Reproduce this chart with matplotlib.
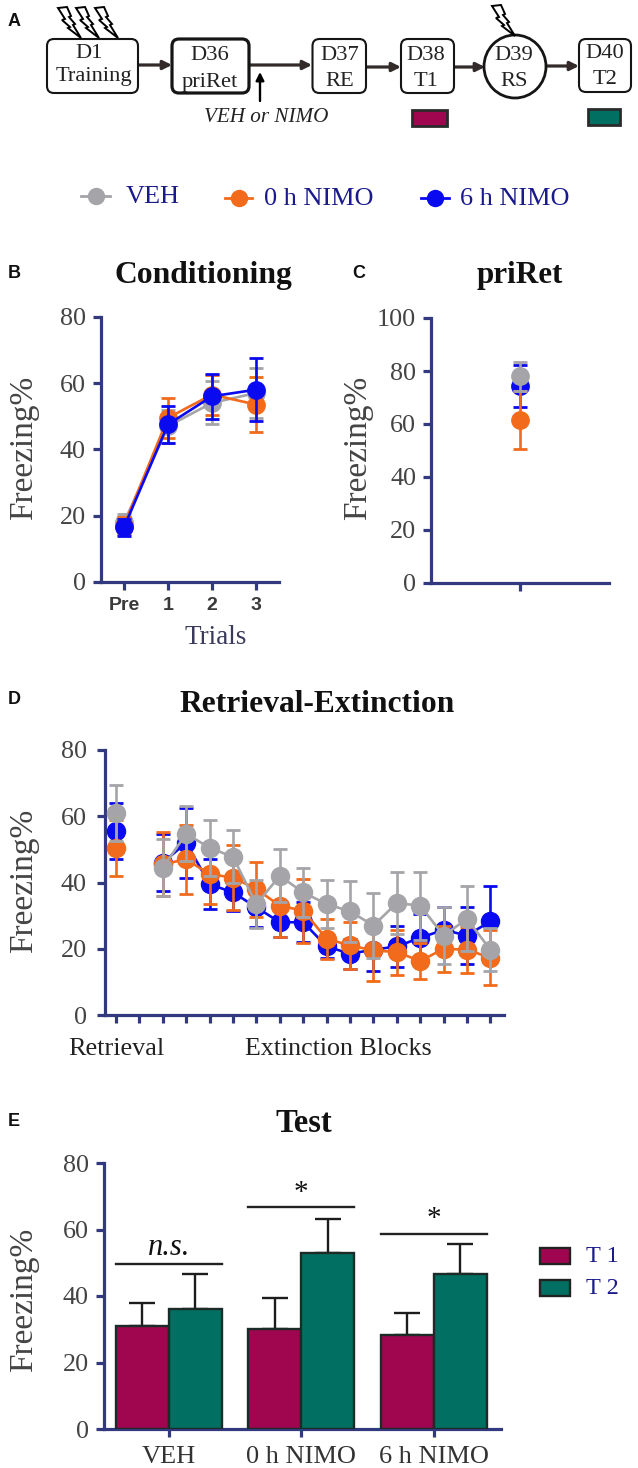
import matplotlib
matplotlib.use("Agg")
import matplotlib.pyplot as plt
from matplotlib.patches import FancyBboxPatch, Ellipse, Rectangle, Polygon
from matplotlib.transforms import ScaledTranslation

W, H = 638, 1468
SERIF = "Liberation Serif"
SANS = "Liberation Sans"
NAVY = "#33397f"
DARK = "#444444"
TEXTNAVY = "#1a1a8c"
GREY, ORANGE, BLUE = "#a5a5a9", "#f26a1b", "#0a0af0"
T1C, T2C = "#a00650", "#016f62"
COLORS = {"VEH": GREY, "0 h NIMO": ORANGE, "6 h NIMO": BLUE}

groups = ["VEH", "0 h NIMO", "6 h NIMO"]
trial_labels = ["Pre", "1", "2", "3"]
cond_mean = {"VEH": [18, 47, 54, 57], "0 h NIMO": [17, 49.5, 56.5, 53.5], "6 h NIMO": [16.5, 47.5, 56, 58]}
cond_err = {"VEH": [2.5, 5, 6.5, 7.5], "0 h NIMO": [2.5, 6, 6, 8.2], "6 h NIMO": [2.5, 5.5, 6.8, 9.5]}
pri_mean = {"VEH": 78, "0 h NIMO": 61.5, "6 h NIMO": 74.3}
pri_err = {"VEH": 5.5, "0 h NIMO": 11, "6 h NIMO": 8}
ret_mean = {"VEH": 61, "0 h NIMO": 50.5, "6 h NIMO": 55.5}
ret_err = {"VEH": 8.5, "0 h NIMO": 8.5, "6 h NIMO": 8.5}
ext_mean = {
    "VEH": [44.5, 54.7, 50.5, 47.7, 33.5, 42, 37, 33.5, 31.3, 27, 33.8, 33, 24, 29, 19.7],
    "0 h NIMO": [45.5, 47, 42.5, 41.5, 38, 33, 31.5, 23, 21, 19.5, 19, 16.3, 20, 19.7, 17.3],
    "6 h NIMO": [46, 52, 39.5, 37, 32.5, 28, 28, 20.7, 18.5, 19.7, 20.7, 23.3, 25.7, 24, 28.3],
}
ext_err = {
    "VEH": [8.5, 8.3, 8.5, 8, 7.3, 8, 7.5, 7.3, 9.3, 9.8, 9.3, 10.3, 8.5, 9.8, 6.5],
    "0 h NIMO": [9.7, 10.5, 9, 9.8, 8.3, 9.5, 9.7, 6, 7, 9.3, 6.8, 5.3, 7, 7, 8.3],
    "6 h NIMO": [8.6, 10.5, 7.5, 5.5, 6, 4.5, 6, 3.5, 4.5, 6.3, 6.3, 7.3, 7, 8.6, 10.5],
}
test_labels = ["VEH", "0 h NIMO", "6 h NIMO"]
t1_mean = [31, 30, 28.3]
t1_err = [6.8, 9.5, 6.7]
t2_mean = [36, 53, 46.5]
t2_err = [10.7, 10.2, 9]
sig_labels = ["n.s.", "*", "*"]
sig_heights = [49.7, 66.7, 58.7]

plt.rcParams["font.family"] = [SERIF, "DejaVu Serif"]
fig = plt.figure(figsize=(W / 100, H / 100), dpi=100)
bg = fig.add_axes([0, 0, 1, 1])
bg.set_xlim(0, W); bg.set_ylim(H, 0); bg.axis("off")


def make_ax(left, right, y0px, ytoppx, ymax, xlim, ticks):
    ax = fig.add_axes([left / W, 1 - y0px / H, (right - left) / W, (y0px - ytoppx) / H])
    ax.patch.set_alpha(0)
    ax.set_xlim(*xlim); ax.set_ylim(0, ymax)
    for s in ("top", "right"):
        ax.spines[s].set_visible(False)
    for s in ("left", "bottom"):
        ax.spines[s].set_color(NAVY); ax.spines[s].set_linewidth(2.3)
    ax.tick_params(axis="both", color=NAVY, width=2.3, length=5.5)
    ax.tick_params(axis="y", labelsize=18.8, labelcolor=DARK, pad=5.5)
    ax.set_xticks(ticks)
    return ax


def series(ax, x, y, e, c, z, ms=12):
    ax.errorbar(x, y, yerr=e, color=c, lw=1.9, marker="o", ms=ms, mec=c, capsize=5.2,
                capthick=2, elinewidth=1.9, zorder=z, clip_on=False)


def ylabel(x, y):
    bg.text(x, y, "Freezing%", rotation=90, fontsize=24, color=DARK, ha="center", va="center")


# ---------- Panel A ----------
def box(x0, y0, x1, y1, lw=1.7):
    bg.add_patch(FancyBboxPatch((x0 + 6, y0 + 6), x1 - x0 - 12, y1 - y0 - 12, boxstyle="round,pad=6,rounding_size=7",
                                fc="white", ec="#151515", lw=lw, zorder=3))


def bolt(x, y, s=1.0):
    pts = [(0, 0), (9, -1), (13, 8), (11, 9), (17, 16), (15, 17), (23, 30), (10, 20), (12, 19), (4, 12), (7, 11)]
    bg.add_patch(Polygon([(x + px * s, y + py * s) for px, py in pts], closed=True, fc="white", ec="black", lw=1.4, zorder=4))


boxes = [(47, 39, 138, 93, 1.5), (172, 39, 249, 93, 2.3), (312.5, 39, 366, 93, 1.5), (401, 39, 454, 93, 1.5), (579, 39, 631, 92, 1.5)]
for b in boxes:
    box(*b[:4], lw=b[4])
bg.add_patch(Ellipse((515, 66.5), 62, 63, fc="white", ec="#151515", lw=2, zorder=3))
for (x, y, t) in [(89, 53, "D1"), (93.5, 77, "Training"), (210, 55, "D36"), (210, 82, "priRet"),
                  (340, 55, "D37"), (340, 81, "RE"), (426, 55, "D38"), (426, 81, "T1"),
                  (514, 55, "D39"), (514, 81, "RS"), (605, 54, "D40"), (605, 79, "T2")]:
    bg.text(x, y, t, fontsize=16.2, color="#222222", ha="center", va="center", zorder=5)
for x0, x1, yy in [(138, 172, 65), (249, 312, 65), (366, 401, 67), (454, 485, 67), (546, 579, 66)]:
    bg.annotate("", xy=(x1, yy), xytext=(x0, yy), zorder=2,
                arrowprops=dict(arrowstyle="-|>", color="#332a2a", lw=2.3, mutation_scale=13, shrinkA=0, shrinkB=0))
bg.annotate("", xy=(260, 72), xytext=(260, 101),
            arrowprops=dict(arrowstyle="-|>", color="black", lw=1.7, mutation_scale=12, shrinkA=0, shrinkB=0))
bg.text(266, 118, "VEH or NIMO", fontsize=15.2, style="italic", color="#222222", ha="center", va="center")
for x in (58, 76, 95):
    bolt(x, 8)
bolt(492, 6)
bg.add_patch(Rectangle((411.5, 110), 35, 16, fc=T1C, ec="#2b2b2b", lw=2))
bg.add_patch(Rectangle((587.5, 109), 32, 15.5, fc=T2C, ec="#2b2b2b", lw=2))

# legend
for x0, x1, tx, name, yy in [(81, 110, 126, groups[0], 196), (225, 252, 264, groups[1], 198), (421, 449, 460, groups[2], 198)]:
    c = COLORS[name]
    bg.plot([x0, x1], [yy, yy], color=c, lw=2)
    bg.plot([(x0 + x1) / 2], [yy], "o", color=c, ms=11.5)
    bg.text(tx, yy + 1, name, fontsize=18.9, color=TEXTNAVY, ha="left", va="center")

# panel letters
for x, y, t in [(8, 21, "A"), (8, 274, "B"), (352, 274, "C"), (8, 700, "D"), (8, 1122, "E")]:
    bg.text(x, y, t, family=SANS, fontsize=13, fontweight="bold", color="#111111", ha="left", va="center")

# ---------- Panel B ----------
axb = make_ax(101, 279, 582, 316.7, 80, (-0.523, 3.523), range(4))
axb.set_xticklabels(trial_labels, family=SANS, fontsize=14, fontweight="bold", color="#3a3a3a")
axb.tick_params(axis="x", pad=5)
axb.set_yticks([0, 20, 40, 60, 80])
for g, z in ((groups[0], 3), (groups[1], 4), (groups[2], 5)):
    series(axb, range(4), cond_mean[g], cond_err[g], COLORS[g], z, ms=12.5)
bg.text(216, 638, "Trials", fontsize=19.5, color="#3a3a5a", ha="center", va="center")
ylabel(24, 448)
bg.text(203.5, 275, "Conditioning", fontsize=22.8, fontweight="bold", color="#111111", ha="center", va="center")

# ---------- Panel C ----------
axc = make_ax(431.4, 609, 583, 318, 100, (-1, 1), [0])
axc.set_xticklabels([""])
axc.set_yticks([0, 20, 40, 60, 80, 100])
for g, z in ((groups[1], 5), (groups[2], 4), (groups[0], 6)):
    series(axc, [0], [pri_mean[g]], [pri_err[g]], COLORS[g], z, ms=12.5)
ylabel(358, 448)
bg.text(520, 275, "priRet", fontsize=22.4, fontweight="bold", color="#111111", ha="center", va="center")

# ---------- Panel D ----------
axd = make_ax(105, 504, 1015, 750, 80, (-0.47, 16.58), range(17))
axd.set_xticklabels([""] * 17)
axd.set_yticks([0, 20, 40, 60, 80])
axd.tick_params(axis="y", pad=7.5)
ext_x = list(range(2, 17))
for g, z in ((groups[2], 3), (groups[1], 4), (groups[0], 5)):
    series(axd, [0], [ret_mean[g]], [ret_err[g]], COLORS[g], z, ms=13)
    series(axd, ext_x, ext_mean[g], ext_err[g], COLORS[g], z, ms=13)
bg.text(116, 1049, "Retrieval", fontsize=18.9, color="#222222", ha="center", va="center")
bg.text(338, 1049, "Extinction Blocks", fontsize=18.7, color="#222222", ha="center", va="center")
ylabel(24, 881)
bg.text(317, 704, "Retrieval-Extinction", fontsize=22.7, fontweight="bold", color="#111111", ha="center", va="center")

# ---------- Panel E ----------
axe = make_ax(104, 501.4, 1429, 1163, 80, (-0.49, 2.51), [0, 1, 2])
axe.set_xticklabels(test_labels, fontsize=19, color="#333333")
axe.get_xticklabels()[2].set_transform(axe.get_xticklabels()[2].get_transform() + ScaledTranslation(7 / 100, 0, fig.dpi_scale_trans))
axe.tick_params(axis="x", pad=6.5)
axe.set_yticks([0, 20, 40, 60, 80])
xpos = [0, 1, 2]
bw = 0.4
axe.bar([x - bw / 2 for x in xpos], t1_mean, bw, color=T1C, edgecolor="#1c2a28", lw=1.7, zorder=3)
axe.bar([x + bw / 2 for x in xpos], t2_mean, bw, color=T2C, edgecolor="#1c2a28", lw=1.7, zorder=3)
axe.errorbar([x - bw / 2 for x in xpos], t1_mean, yerr=[[0] * 3, t1_err], fmt="none", ecolor="#1c1c1c", elinewidth=1.7, capsize=9.5, capthick=1.7, zorder=2)
axe.errorbar([x + bw / 2 for x in xpos], t2_mean, yerr=[[0] * 3, t2_err], fmt="none", ecolor="#1c1c1c", elinewidth=1.7, capsize=9.5, capthick=1.7, zorder=2)
for x, lab, h in zip(xpos, sig_labels, sig_heights):
    axe.plot([x - 0.4, x + 0.4], [h, h], color="#222222", lw=1.7)
    if lab == "*":
        axe.text(x, h + 0.5, lab, fontsize=21, ha="center", va="bottom", color="#111111")
    else:
        axe.text(x, h + 0.5, lab, fontsize=22, style="italic", ha="center", va="bottom", color="#111111")
ylabel(24, 1300)
bg.text(304, 1124, "Test", fontsize=23.5, fontweight="bold", color="#111111", ha="center", va="center")
for y, c, t in [(1256, T1C, "T 1"), (1288, T2C, "T 2")]:
    bg.add_patch(Rectangle((540, y - 8), 30, 16, fc=c, ec="#222222", lw=1.7))
    bg.text(586, y, t, fontsize=17.5, color=TEXTNAVY, ha="left", va="center")

fig.savefig("out.png", dpi=100)
